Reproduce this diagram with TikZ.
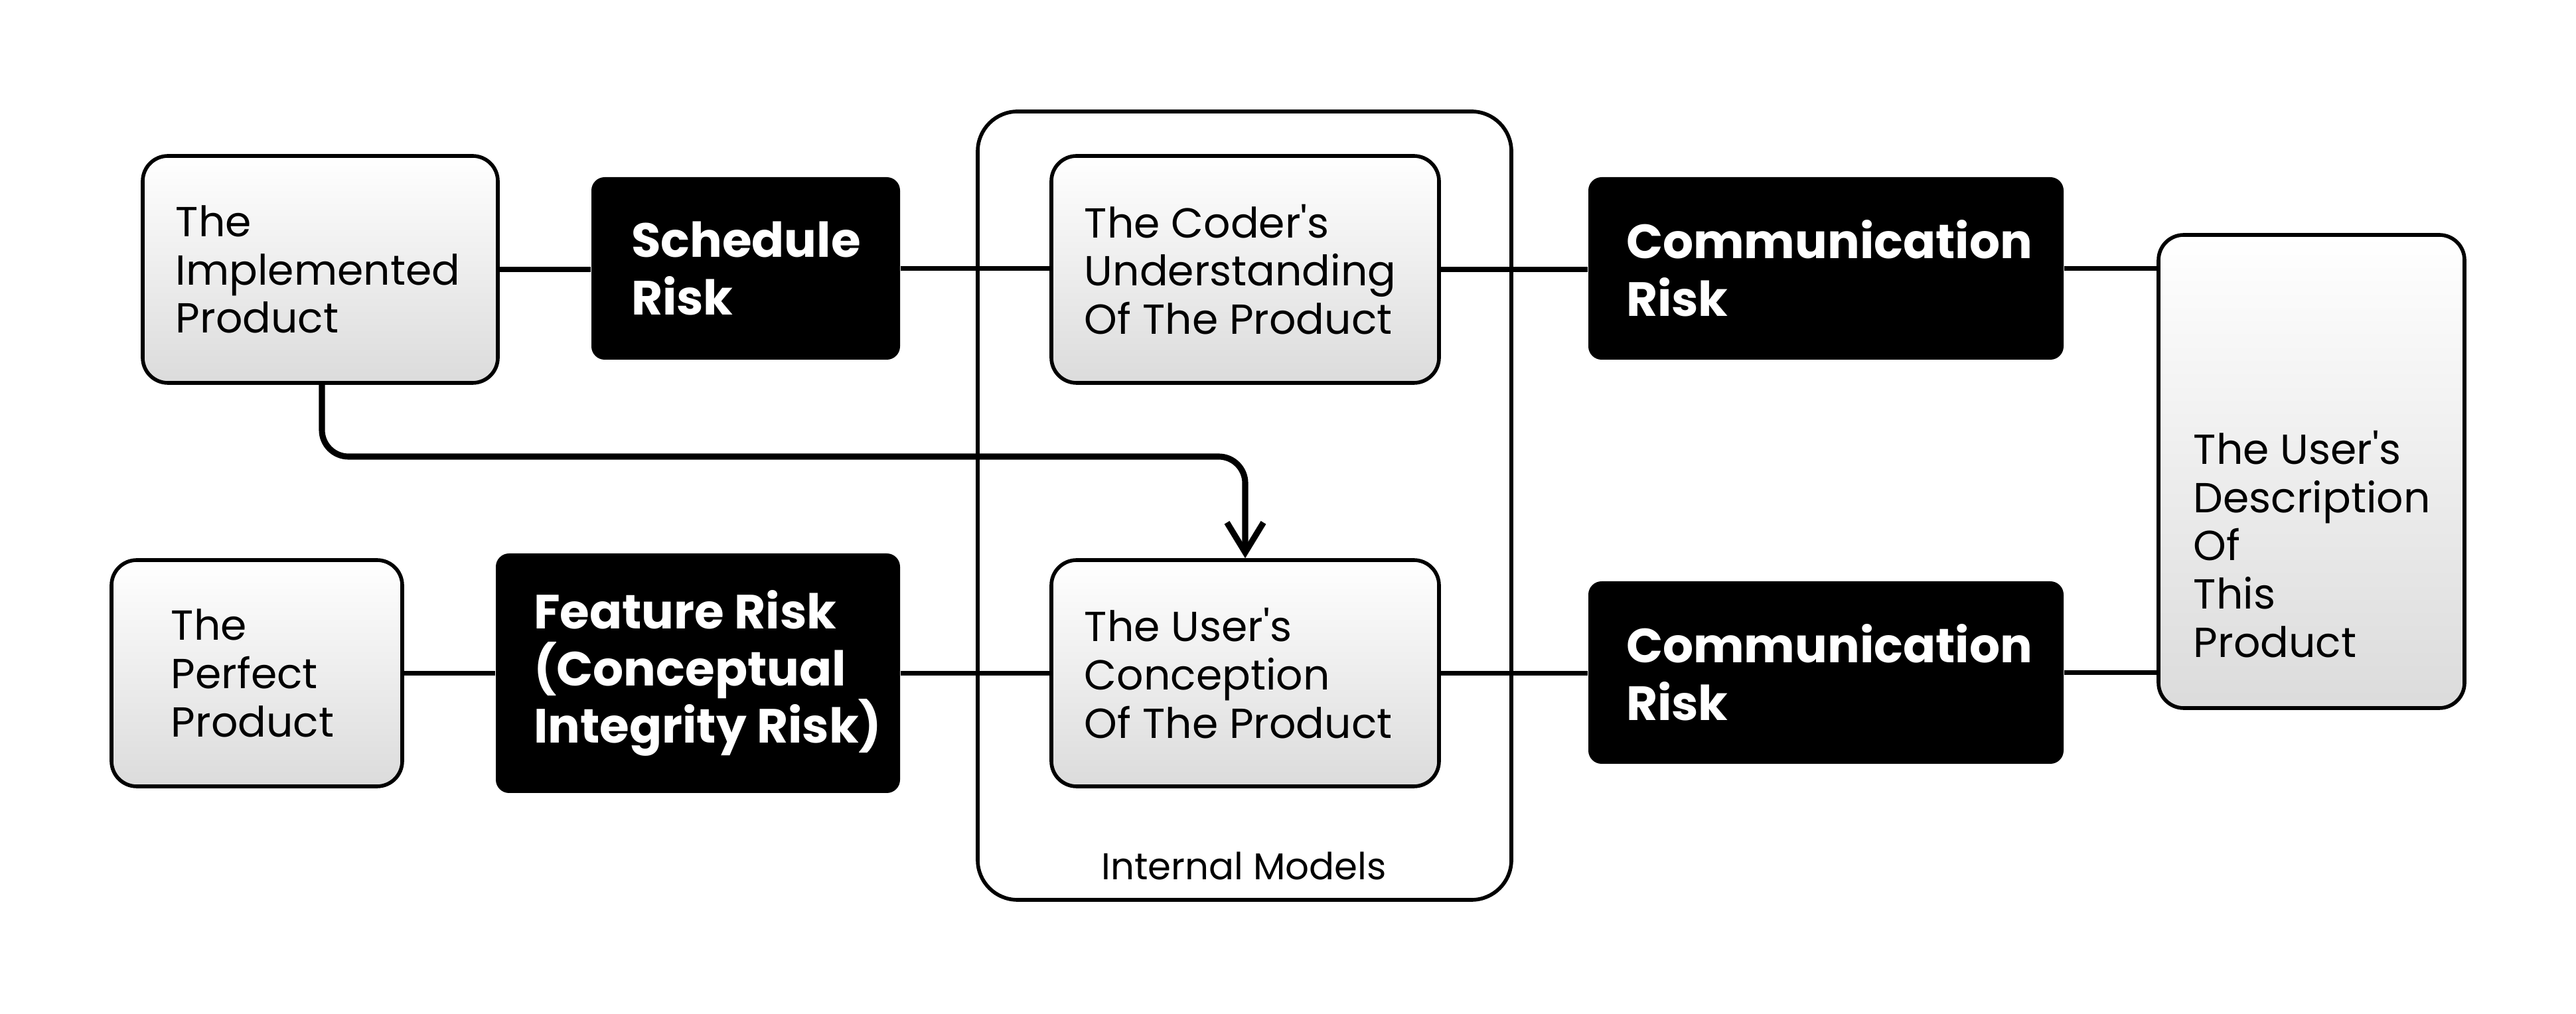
\documentclass[tikz,border=0pt]{standalone}
\usepackage{fontspec}
\setmainfont{Poppins}[Ligatures=TeXOff]
\usetikzlibrary{arrows.meta}
\begin{document}
\begin{tikzpicture}[x=1cm,y=1cm]
\useasboundingbox (0,0) rectangle (38.81,-15.28);
\tikzset{
 graybox/.style={draw=black, line width=1.6pt, rounded corners=0.38cm, top color=white, bottom color=black!14, inner sep=0pt},
 blackbox/.style={fill=black, rounded corners=0.2cm, inner sep=0pt},
 lighttxt/.style={anchor=west, align=left, font=\fontsize{18}{20.7}\selectfont, inner sep=0pt},
 boldtxt/.style={anchor=west, align=left, text=white, font=\fontsize{20.6}{24.6}\selectfont\bfseries, inner sep=0pt},
 conn/.style={line width=2.2pt},
 outerbox/.style={draw, line width=1.6pt, rounded corners=0.6cm, inner sep=0pt},
 arr/.style={line width=2.6pt, rounded corners=0.4cm, -{Straight Barb[length=0.45cm, width=0.55cm]}}
}
% outer container
\node[outerbox, minimum width=8.04cm, minimum height=11.88cm] (outer) at (18.75,-7.62) {};
\node[font=\fontsize{16}{19}\selectfont, inner sep=0pt] (outerlbl) at (18.74,-13.05) {Internal Models};

% boxes
\node[graybox, minimum width=5.35cm, minimum height=3.42cm] (impl) at (4.825,-4.06) {};
\node[blackbox, minimum width=4.65cm, minimum height=2.75cm] (sched) at (11.235,-4.045) {};
\node[graybox, minimum width=5.84cm, minimum height=3.42cm] (coder) at (18.76,-4.06) {};
\node[blackbox, minimum width=7.16cm, minimum height=2.75cm] (comma) at (27.51,-4.045) {};
\node[graybox, minimum width=4.61cm, minimum height=7.13cm] (desc) at (34.825,-7.105) {};
\node[graybox, minimum width=4.38cm, minimum height=3.41cm] (perfect) at (3.87,-10.145) {};
\node[blackbox, minimum width=6.09cm, minimum height=3.61cm] (feature) at (10.515,-10.145) {};
\node[graybox, minimum width=5.84cm, minimum height=3.41cm] (concept) at (18.76,-10.145) {};
\node[blackbox, minimum width=7.16cm, minimum height=2.75cm] (commb) at (27.51,-10.135) {};

% texts
\node[lighttxt] (impltxt) at ([xshift=0.52cm]impl.west) {The\\Implemented\\Product};
\node[boldtxt] (schedtxt) at ([xshift=0.60cm]sched.west) {Schedule\\Risk};
\node[lighttxt] (codertxt) at ([xshift=0.52cm]coder.west) {The Coder's\\Understanding\\Of The Product};
\node[boldtxt] (commatxt) at ([xshift=0.57cm]comma.west) {Communication\\Risk};
\node[lighttxt] (desctxt) at ([xshift=0.55cm]desc.west |- 0,-8.2) {The User's\\Description\\Of\\This\\Product};
\node[lighttxt] (perfecttxt) at ([xshift=0.92cm]perfect.west) {The\\Perfect\\Product};
\node[boldtxt] (featuretxt) at ([xshift=0.57cm]feature.west) {Feature Risk\\(Conceptual\\Integrity Risk)};
\node[lighttxt] (concepttxt) at ([xshift=0.52cm]concept.west) {The User's\\Conception\\Of The Product};
\node[boldtxt] (commbtxt) at ([xshift=0.57cm]commb.west) {Communication\\Risk};

% connectors
\draw[conn] (impl.east) -- (impl.east -| sched.west);
\draw[conn] (sched.east) -- (sched.east -| coder.west);
\draw[conn] (coder.east) -- (coder.east -| comma.west);
\draw[conn] (comma.east) -- (comma.east -| desc.west);
\draw[conn] (perfect.east) -- (perfect.east -| feature.west);
\draw[conn] (feature.east) -- (feature.east -| concept.west);
\draw[conn] (concept.east) -- (concept.east -| commb.west);
\draw[conn] (commb.east) -- (commb.east -| desc.west);
\coordinate (bend) at (4.85,-6.88);
\draw[arr] (impl.south -| bend) -- (bend) -| (concept.north);
\end{tikzpicture}
\end{document}
